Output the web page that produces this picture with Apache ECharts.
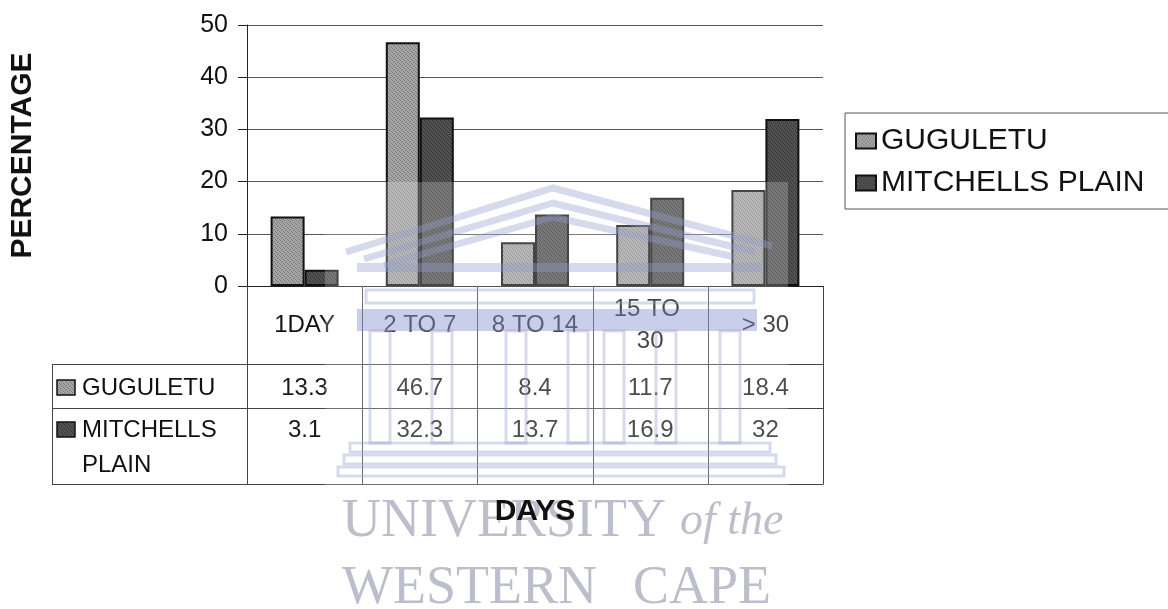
<!DOCTYPE html>
<html>
<head>
<meta charset="utf-8">
<script src="https://cdn.jsdelivr.net/npm/echarts@6/dist/echarts.min.js"></script>
<style>
  html, body { margin: 0; padding: 0; background: #ffffff; }
  #chart { width: 1168px; height: 609px; }
</style>
</head>
<body>
<div id="chart"></div>
<script>
// ---- data ----
const categories = ['1DAY', '2 TO 7', '8 TO 14', '15 TO 30', '> 30'];
const guguletu = [13.3, 46.7, 8.4, 11.7, 18.4];
const mitchellsPlain = [3.1, 32.3, 13.7, 16.9, 32];
const seriesNames = ['GUGULETU', 'MITCHELLS PLAIN'];
const tableRowLabels = ['GUGULETU', 'MITCHELLS\nPLAIN'];
const yMin = 0, yMax = 50, yStep = 10;

// ---- layout / style ----
const FONT = '"Liberation Sans", Arial, sans-serif';
const SERIF = '"Liberation Serif", "DejaVu Serif", serif';
const GRID = { left: 247, right: 345, top: 25, bottom: 323 };
const TABLE = { labelLeft: 52, headerBottom: 364, row1Bottom: 408, row2Bottom: 484 };
const LINE = '#444';

// fine stipple fill like a printed grey pattern
function stipple(base, dot) {
  const c = document.createElement('canvas');
  c.width = 4; c.height = 4;
  const g = c.getContext('2d');
  g.fillStyle = base; g.fillRect(0, 0, 4, 4);
  g.fillStyle = dot;
  [[0, 0], [2, 1], [1, 2], [3, 3]].forEach(([x, y]) => g.fillRect(x, y, 1, 1));
  return { image: c, repeat: 'repeat' };
}
const fillG = stipple('#a6a6a6', '#787878');
const fillM = stipple('#535353', '#333333');

const chart = echarts.init(document.getElementById('chart'), null, { renderer: 'canvas' });

const option = {
  backgroundColor: '#ffffff',
  animation: false,
  grid: {
    left: GRID.left, right: GRID.right, top: GRID.top, bottom: GRID.bottom,
    containLabel: false, outerBoundsMode: 'none'
  },
  legend: {
    data: seriesNames,
    orient: 'vertical',
    left: 845, top: 113,
    padding: [12, 60, 10, 10],
    itemGap: 10,
    itemWidth: 20, itemHeight: 15,
    icon: 'rect',
    borderColor: '#555', borderWidth: 1,
    textStyle: { fontSize: 30, fontFamily: FONT, color: '#111', lineHeight: 32 }
  },
  xAxis: {
    type: 'category',
    data: categories,
    axisLine: { show: true, lineStyle: { color: '#222', width: 1 } },
    axisTick: { show: false },
    axisLabel: {
      interval: 0, margin: 39, fontSize: 24, lineHeight: 32, fontFamily: FONT,
      color: '#111', verticalAlign: 'middle', width: 96, overflow: 'break'
    },
    splitLine: { show: false }
  },
  yAxis: {
    type: 'value',
    min: yMin, max: yMax, interval: yStep,
    axisLine: { show: true, lineStyle: { color: '#222', width: 1 } },
    axisTick: { show: true, length: 9, lineStyle: { color: '#222' } },
    axisLabel: { fontSize: 25, fontFamily: FONT, color: '#111', margin: 19 },
    splitLine: { lineStyle: { color: '#555', width: 1 } },
    name: 'PERCENTAGE',
    nameLocation: 'middle', nameGap: 209, nameRotate: 90,
    nameTextStyle: { fontSize: 30, fontWeight: 'bold', fontFamily: FONT, color: '#111' }
  },
  series: [
    {
      name: seriesNames[0], type: 'bar', data: guguletu,
      barWidth: 34, barGap: '0%',
      itemStyle: { color: fillG, borderColor: '#111', borderWidth: 2 }
    },
    {
      name: seriesNames[1], type: 'bar', data: mitchellsPlain,
      barWidth: 34, barGap: '0%',
      itemStyle: { color: fillM, borderColor: '#111', borderWidth: 2 }
    }
  ]
};
chart.setOption(option);

// ---- data table under the axis, positioned from the axis scale ----
const W = chart.getWidth();
const plotLeft = GRID.left, plotRight = W - GRID.right;
const band = (plotRight - plotLeft) / categories.length;
const yZero = chart.convertToPixel({ yAxisIndex: 0 }, yMin);
const g = [];

// cell borders
for (let i = 0; i <= categories.length; i++) {
  const x = Math.round(plotLeft + i * band) + 0.5;
  g.push({ type: 'line', z: 50, shape: { x1: x, y1: yZero, x2: x, y2: TABLE.row2Bottom },
           style: { stroke: LINE, lineWidth: 1 } });
}
[TABLE.headerBottom, TABLE.row1Bottom, TABLE.row2Bottom].forEach(y => {
  g.push({ type: 'line', z: 50, shape: { x1: TABLE.labelLeft, y1: y + 0.5, x2: plotRight + 0.5, y2: y + 0.5 },
           style: { stroke: LINE, lineWidth: 1 } });
});
g.push({ type: 'line', z: 50, shape: { x1: TABLE.labelLeft + 0.5, y1: TABLE.headerBottom, x2: TABLE.labelLeft + 0.5, y2: TABLE.row2Bottom },
         style: { stroke: LINE, lineWidth: 1 } });

// row keys and labels
const rowFills = [fillG, fillM];
const rowTextY = [TABLE.headerBottom + 24, TABLE.row1Bottom + 22];
tableRowLabels.forEach((label, r) => {
  g.push({ type: 'rect', z: 50, shape: { x: 57, y: rowTextY[r] - 8, width: 18, height: 15 },
           style: { fill: rowFills[r], stroke: '#111', lineWidth: 1.5 } });
  g.push({ type: 'text', z: 50, x: 82, y: rowTextY[r] - 17,
           style: { text: label, fontSize: 24, fontFamily: FONT, fill: '#111',
                    lineHeight: 35, align: 'left', verticalAlign: 'top' } });
});

// values
[guguletu, mitchellsPlain].forEach((vals, r) => {
  vals.forEach((v, i) => {
    const cx = chart.convertToPixel({ xAxisIndex: 0 }, categories[i]);
    g.push({ type: 'text', z: 50, x: cx, y: rowTextY[r],
             style: { text: String(v), fontSize: 24, fontFamily: FONT, fill: '#1a1a1a',
                      align: 'center', verticalAlign: 'middle' } });
  });
});

// ---- university crest watermark ----
const WM = 'rgba(150,158,205,0.38)';
g.push({ type: 'rect', z: 100, shape: { x: 325, y: 182, width: 463, height: 427 },
         style: { fill: 'rgba(255,255,255,0.22)' } });
[[[346, 252], [553, 188], [772, 246]],
 [[364, 259], [553, 203], [755, 252]],
 [[384, 265], [553, 217], [735, 257]]].forEach(pts => {
  g.push({ type: 'polyline', z: 101, shape: { points: pts },
           style: { stroke: WM, lineWidth: 7, fill: null } });
});
g.push({ type: 'rect', z: 101, shape: { x: 357, y: 263, width: 405, height: 9 }, style: { fill: WM } });
g.push({ type: 'rect', z: 101, shape: { x: 366, y: 290, width: 388, height: 13 },
         style: { fill: null, stroke: WM, lineWidth: 3 } });
g.push({ type: 'rect', z: 101, shape: { x: 357, y: 309, width: 400, height: 22 },
         style: { fill: 'rgba(120,135,205,0.40)' } });
[370, 432, 506, 568, 604, 656, 720].forEach(cx => {
  g.push({ type: 'rect', z: 101, shape: { x: cx, y: 331, width: 20, height: 112 },
           style: { fill: null, stroke: WM, lineWidth: 3 } });
});
[[350, 443, 420], [344, 455, 432], [338, 467, 446]].forEach(([x, y, w]) => {
  g.push({ type: 'rect', z: 101, shape: { x, y, width: w, height: 9 },
           style: { fill: null, stroke: WM, lineWidth: 3 } });
});
const WMT = '#bcbecb';
g.push({ type: 'text', z: 102, x: 342, y: 522,
         style: { text: 'UNIVERSITY', fontSize: 54, fontFamily: SERIF, fill: WMT, verticalAlign: 'middle' } });
g.push({ type: 'text', z: 102, x: 680, y: 522,
         style: { text: 'of the', fontSize: 46, fontStyle: 'italic', fontFamily: SERIF, fill: WMT, verticalAlign: 'middle' } });
g.push({ type: 'text', z: 102, x: 342, y: 589,
         style: { text: 'WESTERN', fontSize: 54, fontFamily: SERIF, fill: WMT, verticalAlign: 'middle' } });
g.push({ type: 'text', z: 102, x: 633, y: 589,
         style: { text: 'CAPE', fontSize: 54, fontFamily: SERIF, fill: WMT, verticalAlign: 'middle' } });

// x-axis title on top of the crest text
g.push({ type: 'text', z: 120, x: (plotLeft + plotRight) / 2, y: 512,
         style: { text: 'DAYS', fontSize: 30, fontWeight: 'bold', fontFamily: FONT, fill: '#111',
                  align: 'center', verticalAlign: 'middle' } });

chart.setOption({ graphic: { elements: g } });
</script>
</body>
</html>
